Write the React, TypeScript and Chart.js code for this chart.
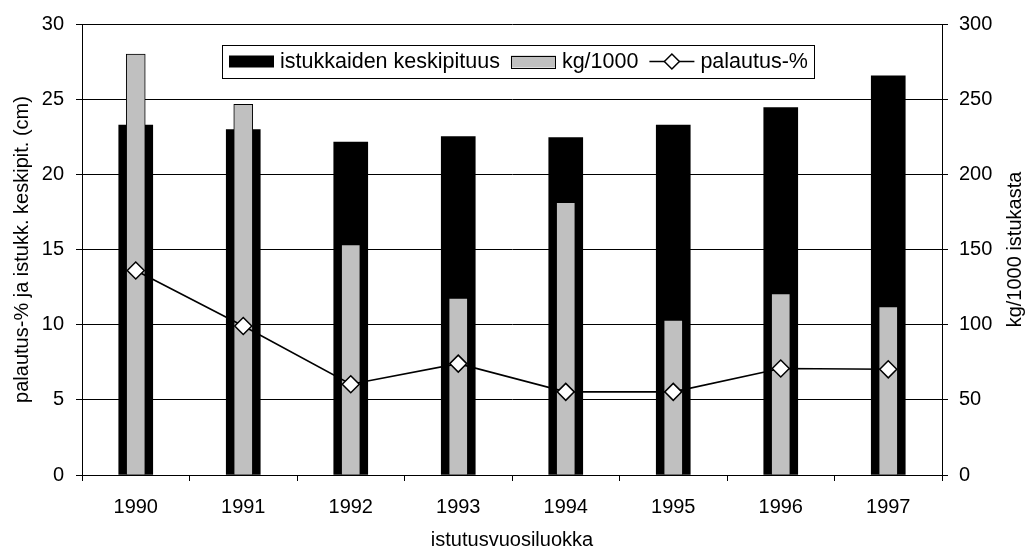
import React, { useEffect, useRef } from "react";
import { Chart, registerables } from "chart.js";

Chart.register(...registerables);

// ---- Data ----
const categories = ["1990", "1991", "1992", "1993", "1994", "1995", "1996", "1997"];
const keskipituus = [23.27, 22.98, 22.14, 22.51, 22.45, 23.27, 24.44, 26.56]; // cm (left axis)
const kgPer1000 = [280, 246.6, 153.3, 117.7, 181.4, 103, 120.6, 112]; // kg/1000 (right axis)
const palautus = [13.6, 9.91, 6.04, 7.41, 5.53, 5.53, 7.08, 7.03]; // % (left axis)

const leftAxisRange = [0, 30];
const leftAxisStep = 5;
const rightAxisRange = [0, 300];
const rightAxisStep = 50;

const seriesLabels = ["istukkaiden keskipituus", "kg/1000", "palautus-%"];
const xTitle = "istutusvuosiluokka";
const leftTitle = "palautus-% ja istukk. keskipit. (cm)";
const rightTitle = "kg/1000 istukasta";

const FONT_FAMILY = "'Liberation Sans', Arial, Helvetica, sans-serif";
const TICK_SIZE = 20;
const TITLE_SIZE = 20;
const LEGEND_SIZE = 21.5;

const boxLegendPlugin = {
  id: "boxLegend",
  afterDraw(chart: any) {
    const ctx: CanvasRenderingContext2D = chart.ctx;
    const area = chart.chartArea;
    const left = area.left + 140;
    const top = area.top + 21;
    const height = 33;
    const midY = top + height / 2;
    const swW = 45;
    const swH = 12;
    ctx.save();
    ctx.font = `${LEGEND_SIZE}px ${FONT_FAMILY}`;
    ctx.textBaseline = "middle";
    ctx.textAlign = "left";
    const ds = chart.data.datasets;
    let total = 7;
    ds.forEach((d: any, i: number) => {
      total += swW + 6 + ctx.measureText(d.label).width;
      if (i < ds.length - 1) total += 11;
    });
    total += 6;
    ctx.fillStyle = "#fff";
    ctx.fillRect(left, top, total, height);
    ctx.strokeStyle = "#000";
    ctx.lineWidth = 1;
    ctx.strokeRect(Math.round(left) + 0.5, Math.round(top) + 0.5, Math.round(total), height);
    let x = left + 7;
    ds.forEach((d: any) => {
      if (d.type === "line") {
        ctx.strokeStyle = d.borderColor;
        ctx.lineWidth = d.borderWidth;
        ctx.beginPath();
        ctx.moveTo(x, midY);
        ctx.lineTo(x + swW, midY);
        ctx.stroke();
        const cx = x + swW / 2;
        const r = 7.5;
        ctx.beginPath();
        ctx.moveTo(cx - r, midY);
        ctx.lineTo(cx, midY - r);
        ctx.lineTo(cx + r, midY);
        ctx.lineTo(cx, midY + r);
        ctx.closePath();
        ctx.fillStyle = d.pointBackgroundColor;
        ctx.fill();
        ctx.lineWidth = d.pointBorderWidth;
        ctx.strokeStyle = d.pointBorderColor;
        ctx.stroke();
      } else {
        ctx.fillStyle = d.backgroundColor;
        ctx.fillRect(x, midY - swH / 2, swW, swH);
        if (d.borderWidth) {
          ctx.strokeStyle = d.borderColor;
          ctx.lineWidth = 1;
          ctx.strokeRect(Math.round(x) + 0.5, Math.round(midY - swH / 2) + 0.5, swW - 1, swH);
        }
      }
      x += swW + 6;
      ctx.fillStyle = "#000";
      ctx.fillText(d.label, x, midY + 1);
      x += ctx.measureText(d.label).width + 11;
    });
    ctx.restore();
  },
};

// Right axis title reads bottom-to-top like the left one
const rightTitlePlugin = {
  id: "rightTitle",
  afterDraw(chart: any) {
    const ctx: CanvasRenderingContext2D = chart.ctx;
    const area = chart.chartArea;
    const cx = chart.width - 16;
    const cy = (area.top + area.bottom) / 2;
    ctx.save();
    ctx.translate(cx, cy);
    ctx.rotate(-Math.PI / 2);
    ctx.font = `${TITLE_SIZE}px ${FONT_FAMILY}`;
    ctx.fillStyle = "#000";
    ctx.textAlign = "center";
    ctx.textBaseline = "middle";
    ctx.fillText(rightTitle, 0, 0);
    ctx.restore();
  },
};

export default function App() {
  const canvasRef = useRef<HTMLCanvasElement | null>(null);

  useEffect(() => {
    if (!canvasRef.current) return;
    const tickFont = { family: FONT_FAMILY, size: TICK_SIZE };
    const titleFont = { family: FONT_FAMILY, size: TITLE_SIZE };
    const chart = new Chart(canvasRef.current, {
      type: "bar",
      data: {
        labels: categories,
        datasets: [
          {
            type: "bar",
            label: seriesLabels[0],
            data: keskipituus,
            backgroundColor: "#000000",
            borderWidth: 0,
            barThickness: 34,
            grouped: false,
            yAxisID: "y",
            order: 3,
          } as any,
          {
            type: "bar",
            label: seriesLabels[1],
            data: kgPer1000,
            backgroundColor: "#c0c0c0",
            borderColor: "#000000",
            borderWidth: 1,
            barThickness: 19,
            grouped: false,
            yAxisID: "y1",
            order: 2,
          } as any,
          {
            type: "line",
            label: seriesLabels[2],
            data: palautus,
            borderColor: "#000000",
            borderWidth: 1.6,
            pointStyle: "rectRot",
            pointRadius: 8.5,
            pointBackgroundColor: "#ffffff",
            pointBorderColor: "#000000",
            pointBorderWidth: 1.5,
            yAxisID: "y",
            order: 1,
            tension: 0,
          } as any,
        ],
      },
      options: {
        animation: false,
        responsive: false,
        maintainAspectRatio: false,
        layout: { padding: { top: 23, left: 0, right: 0, bottom: 0 } },
        plugins: {
          legend: { display: false },
          tooltip: { enabled: false },
        },
        scales: {
          x: {
            type: "category",
            offset: true,
            grid: {
              offset: true,
              drawOnChartArea: false,
              drawTicks: true,
              tickLength: 6,
              color: "#000",
              lineWidth: 1,
            },
            border: { display: true, color: "#000", width: 1 },
            ticks: { font: tickFont, color: "#000", padding: 14, maxRotation: 0 },
            title: {
              display: true,
              text: xTitle,
              font: titleFont,
              color: "#000",
              padding: { top: 0, bottom: 2 },
            },
            afterFit: (s: any) => {
              s.height = 79;
            },
          },
          y: {
            type: "linear",
            position: "left",
            min: leftAxisRange[0],
            max: leftAxisRange[1],
            ticks: { stepSize: leftAxisStep, font: tickFont, color: "#000", padding: 12 },
            grid: { color: "#000", lineWidth: 1, tickLength: 6, drawTicks: true },
            border: { display: true, color: "#000", width: 1 },
            title: {
              display: true,
              text: leftTitle,
              font: titleFont,
              color: "#000",
              padding: { top: 10, bottom: 0 },
            },
            afterFit: (s: any) => {
              s.width = 82;
            },
          },
          y1: {
            type: "linear",
            position: "right",
            min: rightAxisRange[0],
            max: rightAxisRange[1],
            ticks: { stepSize: rightAxisStep, font: tickFont, color: "#000", padding: 11 },
            grid: { drawOnChartArea: false, color: "#000", lineWidth: 1, tickLength: 6, drawTicks: true },
            border: { display: true, color: "#000", width: 1 },
            title: { display: false },
            afterFit: (s: any) => {
              s.width = 89;
            },
          },
        },
      } as any,
      plugins: [boxLegendPlugin, rightTitlePlugin],
    });
    return () => chart.destroy();
  }, []);

  return (
    <div style={{ position: "fixed", left: 0, top: 0, width: 1031, height: 554, background: "#fff" }}>
      <canvas ref={canvasRef} width={1031} height={554} style={{ width: 1031, height: 554, display: "block" }} />
    </div>
  );
}
